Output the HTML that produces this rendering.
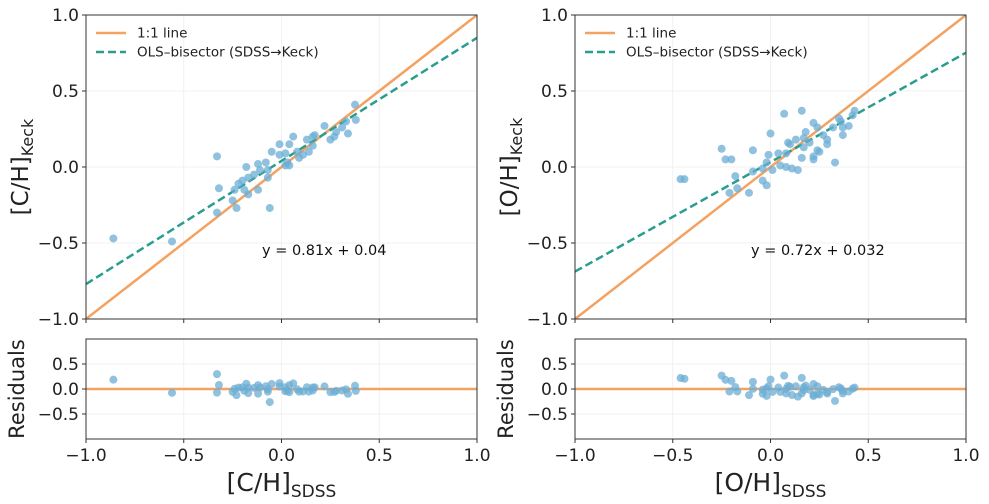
<!DOCTYPE html>
<html><head><meta charset="utf-8"><style>
body{margin:0;background:#fff;}
svg{display:block;font-family:"DejaVu Sans","Liberation Sans",sans-serif;}
</style></head><body>
<svg id="chart" width="989" height="504" viewBox="0 0 989 504"></svg>
<script>
const chX = [-0.86,-0.56,0.376,0.33,0.38,0.34,0.31,0.28,0.25,0.27,0.22,0.17,0.16,0.13,0.16,0.06,0.04,-0.01,-0.05,-0.01,0.02,0.03,0.08,0.11,0.14,0.09,0.04,0.02,-0.33,-0.12,-0.11,-0.08,-0.07,-0.18,-0.14,-0.17,-0.2,-0.22,-0.07,-0.32,-0.24,-0.19,-0.17,-0.12,-0.25,-0.23,-0.33,-0.06];
const chY = [-0.47,-0.49,0.41,0.30,0.31,0.22,0.26,0.23,0.18,0.20,0.27,0.21,0.20,0.18,0.14,0.20,0.15,0.15,0.10,0.08,0.09,0.03,0.10,0.08,0.10,0.06,0.01,0.01,0.07,0.02,-0.02,0.03,-0.02,0.0,-0.05,-0.07,-0.09,-0.11,-0.07,-0.14,-0.15,-0.15,-0.18,-0.15,-0.22,-0.27,-0.30,-0.27];
const ohX = [-0.46,-0.44,-0.25,-0.23,-0.2,-0.18,-0.17,-0.21,-0.11,-0.09,-0.09,-0.04,-0.02,-0.04,-0.01,0.0,-0.02,0.01,0.04,0.05,0.08,0.09,0.1,0.08,0.11,0.14,0.07,0.16,0.16,0.13,0.17,0.18,0.2,0.17,0.22,0.24,0.27,0.29,0.29,0.24,0.22,0.22,0.25,0.33,0.37,0.32,0.35,0.36,0.40,0.42,0.43,0.37];
const ohY = [-0.08,-0.08,0.12,0.05,0.05,-0.06,-0.14,-0.17,-0.17,0.11,-0.03,-0.09,-0.12,-0.01,0.08,0.22,0.03,-0.02,0.09,0.01,0.0,0.16,0.15,0.09,-0.01,-0.02,0.35,0.37,0.06,0.18,0.19,0.23,0.16,0.13,0.29,0.26,0.21,0.18,0.15,0.11,0.07,0.05,0.10,0.03,0.21,0.26,0.32,0.30,0.27,0.34,0.37,0.26];
const fitC = [0.81, 0.04];
const fitO = [0.72, 0.032];
const mainTicks = [-1.0,-0.5,0.0,0.5,1.0];
const mainTickLabels = ["\u22121.0","\u22120.5","0.0","0.5","1.0"];
const resTicks = [-0.5,0.0,0.5];
const resTickLabels = ["\u22120.5","0.0","0.5"];

const NS="http://www.w3.org/2000/svg";
const svg=document.getElementById('chart');
function mk(tag,attrs,parent,name,txt){
  const e=document.createElementNS(NS,tag);
  for(const k in attrs)e.setAttribute(k,attrs[k]);
  
  
  if(txt!==undefined)e.textContent=txt;
  (parent||svg).appendChild(e);return e;
}
const ORANGE="#f4a261", GREEN="#2a9d8f", PT="#6baed6";

function panel(x0,x1,data,fit,xl,yl,pre){
  const g=mk('g',{},svg,pre+'-panel');
  const sx=v=>x0+(v+1)/2*(x1-x0);
  const my0=15,my1=319, ry0=339,ry1=439;
  const sy=v=>my1-(v+1)/2*(my1-my0);
  const sr=v=>ry1-(v+1)/2*(ry1-ry0);
  mainTicks.forEach(t=>{
    mk('line',{x1:sx(t),x2:sx(t),y1:my0,y2:my1,stroke:'#eee','stroke-width':0.8},g,'main-grid-x');
    mk('line',{x1:x0,x2:x1,y1:sy(t),y2:sy(t),stroke:'#eee','stroke-width':0.8},g,'main-grid-y');
    mk('line',{x1:sx(t),x2:sx(t),y1:ry0,y2:ry1,stroke:'#eee','stroke-width':0.8},g,'res-grid-x');
  });
  resTicks.forEach(t=>mk('line',{x1:x0,x2:x1,y1:sr(t),y2:sr(t),stroke:'#eee','stroke-width':0.8},g,'res-grid-y'));
  const clip=mk('clipPath',{id:pre+'clip'},g,'clip');
  mk('rect',{x:x0,y:my0,width:x1-x0,height:my1-my0},clip,'clip-rect');
  const cg=mk('g',{'clip-path':'url(#'+pre+'clip)'},g,'main-plot-area');
  mk('line',{x1:sx(-1),y1:sy(-1),x2:sx(1),y2:sy(1),stroke:ORANGE,'stroke-width':2.5},cg,'one-to-one-line');
  mk('line',{x1:sx(-1),y1:sy(fit[0]*-1+fit[1]),x2:sx(1),y2:sy(fit[0]+fit[1]),stroke:GREEN,'stroke-width':2.5,'stroke-dasharray':'8,4'},cg,'ols-bisector-line');
  const [X,Y]=data;
  X.forEach((v,i)=>mk('circle',{cx:sx(v),cy:sy(Y[i]),r:4,fill:PT,'fill-opacity':0.75},cg,'data-point'));
  mk('line',{x1:x0,x2:x1,y1:sr(0),y2:sr(0),stroke:ORANGE,'stroke-width':2.5},g,'zero-residual-line');
  X.forEach((v,i)=>mk('circle',{cx:sx(v),cy:sr(Y[i]-(fit[0]*v+fit[1])),r:4,fill:PT,'fill-opacity':0.75},g,'residual-point'));
  mk('rect',{x:x0,y:my0,width:x1-x0,height:my1-my0,fill:'none',stroke:'#333','stroke-width':1},g,'main-frame');
  mk('rect',{x:x0,y:ry0,width:x1-x0,height:ry1-ry0,fill:'none',stroke:'#333','stroke-width':1},g,'residual-frame');
  mainTicks.forEach((t,i)=>{
    mk('line',{x1:x0-4,x2:x0,y1:sy(t),y2:sy(t),stroke:'#333'},g,'y-tick');
    mk('text',{x:x0-7,y:sy(t)+6,'text-anchor':'end','font-size':17,fill:'#222'},g,'y-tick-label',mainTickLabels[i]);
    mk('line',{x1:sx(t),x2:sx(t),y1:my1,y2:my1+4,stroke:'#333'},g,'x-tick');
    mk('line',{x1:sx(t),x2:sx(t),y1:ry1,y2:ry1+4,stroke:'#333'},g,'x-tick');
    mk('text',{x:sx(t),y:ry1+22,'text-anchor':'middle','font-size':17,fill:'#222'},g,'x-tick-label',mainTickLabels[i]);
  });
  resTicks.forEach((t,i)=>{
    mk('line',{x1:x0-4,x2:x0,y1:sr(t),y2:sr(t),stroke:'#333'},g,'res-y-tick');
    mk('text',{x:x0-7,y:sr(t)+6,'text-anchor':'end','font-size':17,fill:'#222'},g,'res-y-tick-label',resTickLabels[i]);
  });
  const xt=mk('text',{x:(x0+x1)/2,y:491,'text-anchor':'middle','font-size':25,fill:'#222'},g,'x-axis-title');
  xt.innerHTML=xl+'<tspan font-size="17" dy="6">SDSS</tspan>';
  const yt=mk('text',{transform:`translate(${x0-58},${(my0+my1)/2}) rotate(-90)`,'text-anchor':'middle','font-size':23,fill:'#222'},g,'y-axis-title');
  yt.innerHTML=yl+'<tspan font-size="16" dy="5">Keck</tspan>';
  mk('text',{transform:`translate(${x0-62},${(ry0+ry1)/2}) rotate(-90)`,'text-anchor':'middle','font-size':21,fill:'#222'},g,'residuals-axis-title','Residuals');
  mk('text',{x:x0+176,y:255,'font-size':14.5,fill:'#111'},g,'fit-equation','y = '+fit[0]+'x + '+fit[1]);
  mk('line',{x1:x0+10,x2:x0+40,y1:33,y2:33,stroke:ORANGE,'stroke-width':2.5},g,'legend-1to1-swatch');
  mk('text',{x:x0+51,y:37.5,'font-size':13.5,fill:'#222'},g,'legend-1to1-label','1:1 line');
  mk('line',{x1:x0+10,x2:x0+40,y1:52,y2:52,stroke:GREEN,'stroke-width':2.5,'stroke-dasharray':'8,4'},g,'legend-ols-swatch');
  mk('text',{x:x0+51,y:56.5,'font-size':13.5,fill:'#222'},g,'legend-ols-label','OLS\u2013bisector (SDSS\u2192Keck)');
}
panel(86,477,[chX,chY],fitC,'[C/H]','[C/H]','ch');
panel(575,966,[ohX,ohY],fitO,'[O/H]','[O/H]','oh');
</script>
</body></html>
